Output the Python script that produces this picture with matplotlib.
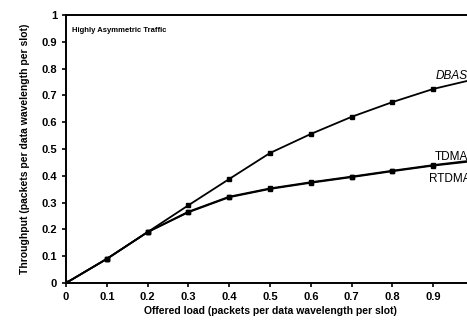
import matplotlib.pyplot as plt

# offered load (packets per data wavelength per slot)
load = [0.0, 0.1, 0.2, 0.3, 0.4, 0.5, 0.6, 0.7, 0.8, 0.9, 1.0]
dbas = [0.0, 0.09, 0.19, 0.29, 0.388, 0.485, 0.556, 0.62, 0.675, 0.724, 0.76]
tdma = [0.0, 0.09, 0.19, 0.266, 0.322, 0.353, 0.376, 0.397, 0.419, 0.44, 0.458]
rtdma = [0.0, 0.09, 0.19, 0.264, 0.320, 0.351, 0.374, 0.395, 0.417, 0.438, 0.455]

plt.rcParams["font.family"] = ["Liberation Sans", "DejaVu Sans"]

fig = plt.figure(figsize=(4.67, 3.26), dpi=100)
ax = fig.add_axes([66 / 467, 1 - 283 / 326, 408 / 467, 268 / 326])

for y in (dbas, tdma, rtdma):
    ax.plot(load, y, color="black", linewidth=1.3, marker="s", markersize=2.5)

ax.set_xlim(0, 1)
ax.set_ylim(0, 1)
ax.set_xticks([0, 0.1, 0.2, 0.3, 0.4, 0.5, 0.6, 0.7, 0.8, 0.9])
ax.set_xticklabels(["0", "0.1", "0.2", "0.3", "0.4", "0.5", "0.6", "0.7", "0.8", "0.9"])
ax.set_yticks([0, 0.1, 0.2, 0.3, 0.4, 0.5, 0.6, 0.7, 0.8, 0.9, 1])
ax.set_yticklabels(["0", "0.1", "0.2", "0.3", "0.4", "0.5", "0.6", "0.7", "0.8", "0.9", "1"])
ax.tick_params(labelsize=8, length=3, width=1.2, direction="out")
for lab in ax.get_xticklabels() + ax.get_yticklabels():
    lab.set_fontweight("bold")
for s in ax.spines.values():
    s.set_linewidth(1.4)

ax.set_xlabel("Offered load (packets per data wavelength per slot)", fontsize=7.5, fontweight="bold", labelpad=3)
ax.set_ylabel("Throughput (packets per data wavelength per slot)", fontsize=7.5, fontweight="bold", labelpad=8)

ax.text(0.015, 0.955, "Highly Asymmetric Traffic", transform=ax.transAxes, fontsize=5.5, fontweight="bold", va="top")
ax.text(0.905, 0.76, "DBAS", fontsize=8.5, style="italic")
ax.text(0.905, 0.46, "TDMA", fontsize=8.5)
ax.text(0.89, 0.378, "RTDMA", fontsize=8.5)

fig.savefig("out.png", dpi=100)
